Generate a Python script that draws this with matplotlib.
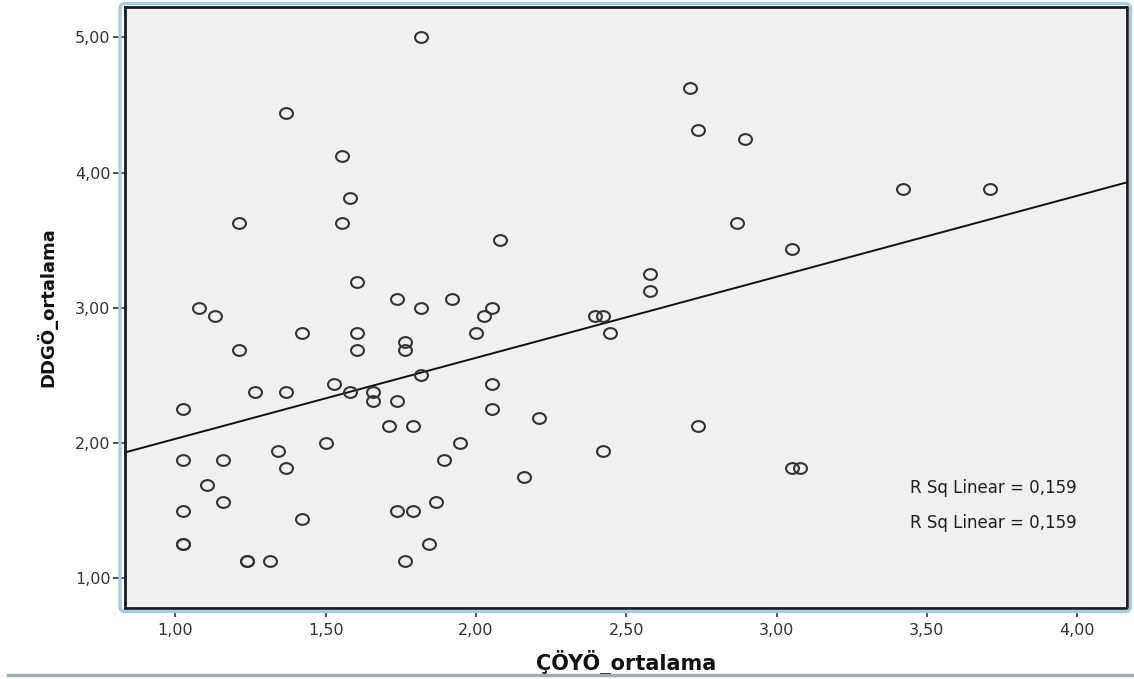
import matplotlib
matplotlib.use("Agg")
import matplotlib.pyplot as plt
import numpy as np
from matplotlib.path import Path
from matplotlib.patches import FancyBboxPatch
from matplotlib.lines import Line2D

# ---- data ----
coyo = [1.816, 1.368, 2.711, 2.737, 2.895, 1.553, 3.421, 3.711, 1.579, 1.211,
        1.553, 2.868, 2.079, 3.053, 2.579, 1.605, 2.579, 1.737, 1.921, 1.079,
        1.816, 2.053, 1.132, 2.026, 2.395, 2.421, 1.421, 1.605, 2.000, 2.447,
        1.763, 1.211, 1.605, 1.763, 1.816, 1.526, 2.053, 1.263, 1.368, 1.579,
        1.658, 1.658, 1.737, 1.026, 2.053, 2.211, 1.711, 1.789, 2.737, 1.500,
        1.947, 1.342, 2.421, 1.026, 1.158, 1.895, 1.368, 3.053, 3.079, 2.158,
        1.105, 1.158, 1.868, 1.026, 1.737, 1.789, 1.421, 1.026, 1.026, 1.842,
        1.237, 1.237, 1.316, 1.763]
ddgo = [5.0, 4.4375, 4.625, 4.3125, 4.25, 4.125, 3.875, 3.875, 3.8125, 3.625,
        3.625, 3.625, 3.5, 3.4375, 3.25, 3.1875, 3.125, 3.0625, 3.0625, 3.0,
        3.0, 3.0, 2.9375, 2.9375, 2.9375, 2.9375, 2.8125, 2.8125, 2.8125, 2.8125,
        2.75, 2.6875, 2.6875, 2.6875, 2.5, 2.4375, 2.4375, 2.375, 2.375, 2.375,
        2.375, 2.3125, 2.3125, 2.25, 2.25, 2.1875, 2.125, 2.125, 2.125, 2.0,
        2.0, 1.9375, 1.9375, 1.875, 1.875, 1.875, 1.8125, 1.8125, 1.8125, 1.75,
        1.6875, 1.5625, 1.5625, 1.5, 1.5, 1.5, 1.4375, 1.25, 1.25, 1.25,
        1.125, 1.125, 1.125, 1.125]

fit_intercept = 1.432
fit_slope = 0.599
r_sq_labels = ["R Sq Linear = 0,159", "R Sq Linear = 0,159"]

x_ticks = [1.0, 1.5, 2.0, 2.5, 3.0, 3.5, 4.0]
x_ticklabels = ["1,00", "1,50", "2,00", "2,50", "3,00", "3,50", "4,00"]
y_ticks = [1.0, 2.0, 3.0, 4.0, 5.0]
y_ticklabels = ["1,00", "2,00", "3,00", "4,00", "5,00"]
x_label = "ÇÖYÖ_ortalama"
y_label = "DDGÖ_ortalama"

# ---- figure ----
W, H, DPI = 1134, 679, 100
fig = plt.figure(figsize=(W / DPI, H / DPI), dpi=DPI)
fig.patch.set_facecolor("white")

ax_l, ax_r, ax_t, ax_b = 125, 1127, 7, 608
ax = fig.add_axes([ax_l / W, (H - ax_b) / H, (ax_r - ax_l) / W, (ax_b - ax_t) / H])
ax.set_facecolor("#F0F0F0")
ax.set_xlim(0.832, 4.166)
ax.set_ylim(0.780, 5.224)

# elliptical open-circle marker (reference is slightly stretched horizontally)
circ = Path.unit_circle()
ell = Path(circ.vertices * np.array([1.2, 1.0]), circ.codes)

ax.plot(coyo, ddgo, linestyle="none", marker=ell, markersize=9.3,
        markerfacecolor="none", markeredgecolor="#333333", markeredgewidth=1.5,
        zorder=3)

xl = np.array(ax.get_xlim())
ax.plot(xl, fit_intercept + fit_slope * xl, color="#111111", linewidth=1.4, zorder=2)
ax.set_xlim(0.832, 4.166)

for i, t in enumerate(r_sq_labels):
    ax.text(0.783, 0.200 - i * 0.059, t, transform=ax.transAxes,
            ha="left", va="center", fontsize=12, color="#1e1e1e",
            family="DejaVu Sans")

ax.set_xticks(x_ticks)
ax.set_xticklabels(x_ticklabels)
ax.set_yticks(y_ticks)
ax.set_yticklabels(y_ticklabels)
ax.tick_params(axis="x", length=6.5, width=1.2, color="#333333", pad=4,
               labelsize=11.5, labelcolor="#333333", direction="out")
ax.tick_params(axis="y", length=8.5, width=1.2, color="#333333", pad=2,
               labelsize=11.5, labelcolor="#333333", direction="out")

for s in ax.spines.values():
    s.set_color("#1a1a1a")
    s.set_linewidth(2.0)

ax.set_xlabel(x_label, fontsize=15, fontweight="bold", color="#111111", va="center")
ax.xaxis.set_label_coords(0.5, -0.09)
ax.set_ylabel(y_label, fontsize=13, fontweight="bold", color="#111111", va="center")
ax.yaxis.set_label_coords(-0.078, 0.5)

# light blue rounded frame around the plot area
frame = FancyBboxPatch((120 / DPI, (H - 611.5) / DPI), (1130.5 - 120) / DPI, (611.5 - 3.5) / DPI,
                       boxstyle="round,pad=0,rounding_size=0.05",
                       transform=fig.dpi_scale_trans, facecolor="none",
                       edgecolor="#A6CBEA", linewidth=2.4, zorder=10)
fig.patches.append(frame)

# gray separator line at the bottom
fig.add_artist(Line2D([8 / W, 1.0], [(H - 675) / H, (H - 675) / H],
                      transform=fig.transFigure, color="#A3ABB3", linewidth=2.5))

fig.savefig("out.png", dpi=DPI)
